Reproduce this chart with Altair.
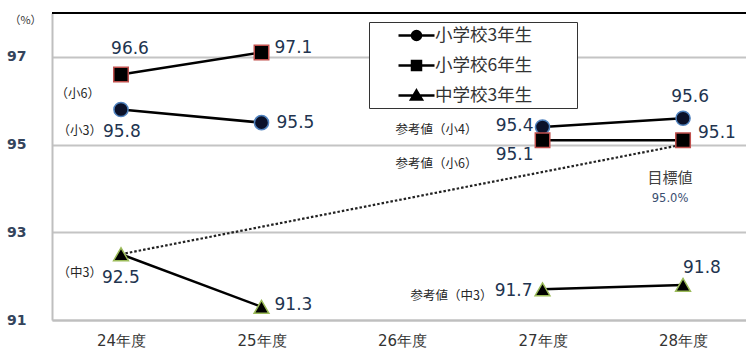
import altair as alt
import pandas as pd

# ---------------- data ----------------
series_names = ["小学校3年生", "小学校6年生", "中学校3年生"]
years = [24, 25, 27, 28]
sho3 = [95.8, 95.5, 95.4, 95.6]
sho6 = [96.6, 97.1, 95.1, 95.1]
chu3 = [92.5, 91.3, 91.7, 91.8]
segments = ["実績", "実績", "参考値", "参考値"]

target_years = [24, 28]
target_values = [92.5, 95.0]
target_texts = ["目標値", "95.0%"]

notes_text = ["（小6）", "（小3）", "参考値（小4）", "参考値（小6）", "（中3）", "参考値（中3）"]
notes_series = ["小学校6年生", "小学校3年生", "小学校3年生", "小学校6年生", "中学校3年生", "中学校3年生"]
notes_year = [24, 24, 27, 27, 24, 27]

x_ticks = [24, 25, 26, 27, 28]
y_ticks = [91, 93, 95, 97]
y_top = 98

rows = []
for name, vals in zip(series_names, [sho3, sho6, chu3]):
    for yr, v, seg in zip(years, vals, segments):
        rows.append({"series": name, "year": yr, "value": v, "seg": seg,
                     "label": f"{v:.1f}"})
df = pd.DataFrame(rows)

notes_rows = []
for t, s, yr in zip(notes_text, notes_series, notes_year):
    v = df[(df.series == s) & (df.year == yr)].value.iloc[0]
    notes_rows.append({"text": t, "series": s, "year": yr, "value": v})
notes_df = pd.DataFrame(notes_rows)

target_df = pd.DataFrame({"year": target_years, "value": target_values})
target_lab = pd.DataFrame({"year": [target_years[1]] * 2, "value": [target_values[1]] * 2,
                           "text": target_texts, "k": [0, 1]})

# ---------------- styling ----------------
NUM_FONT = "DejaVu Sans"
JP_FONT = "Noto Sans CJK JP"
NUM_COLOR = "#22344f"

xscale = alt.Scale(domain=[23.509, 28.448], nice=False, zero=False)
yscale = alt.Scale(domain=[91, y_top], nice=False, zero=False)

X = alt.X("year:Q", scale=xscale, axis=alt.Axis(
    values=x_ticks, labelExpr="datum.value + '年度'", title=None,
    labelFont=NUM_FONT, labelFontSize=15, labelColor="#333333",
    labelPadding=13, ticks=False, grid=False,
    domainColor="#bfbfbf", domainWidth=2))
Y = alt.Y("value:Q", scale=yscale, axis=alt.Axis(
    values=y_ticks, title="（%）", titleAngle=0, titleX=-27, titleY=7,
    titleAlign="center", titleBaseline="middle", titleFont=JP_FONT,
    titleFontSize=11, titleFontWeight="normal", titleColor="#333333",
    labelFont=NUM_FONT, labelFontSize=14, labelFontWeight="bold",
    labelColor="#34445c", labelPadding=26, ticks=False,
    grid=True, gridColor="#c4c4c4", gridWidth=2,
    domainColor="#bfbfbf", domainWidth=2))

base = alt.Chart(df)

top_rule = alt.Chart(pd.DataFrame({"v": [y_top]})).mark_rule(
    color="black", strokeWidth=2).encode(y=alt.Y("v:Q", scale=yscale))

lines = base.mark_line(color="black", strokeWidth=2.5).encode(
    x=X, y=Y, detail=["series:N", "seg:N"])

target_line = alt.Chart(target_df).mark_line(
    color="#222222", strokeWidth=2.2, strokeDash=[2.5, 2]).encode(x="year:Q", y="value:Q")

points = base.mark_point(filled=True, opacity=1, strokeWidth=1.5).encode(
    x="year:Q", y="value:Q",
    shape=alt.Shape("series:N", scale=alt.Scale(domain=series_names,
                    range=["circle", "square", "triangle-up"]), legend=None),
    fill=alt.Fill("series:N", scale=alt.Scale(domain=series_names,
                  range=["#0b1129", "#000000", "#000000"]), legend=None),
    stroke=alt.Stroke("series:N", scale=alt.Scale(domain=series_names,
                      range=["#4f81bd", "#c0504d", "#9bbb59"]), legend=None),
    size=alt.Size("series:N", scale=alt.Scale(domain=series_names,
                  range=[200, 220, 270]), legend=None),
)

# legend symbols: a short line with the marker on it
legend_paths = [
    "M-2,0H2M0.5,0A0.5,0.5,0,1,1,-0.5,0A0.5,0.5,0,1,1,0.5,0Z",
    "M-2,0H2M-0.5,-0.5H0.5V0.5H-0.5Z",
    "M-2,0H2M0,-0.55L0.6,0.45H-0.6Z",
]
legend_layer = base.transform_filter("false").mark_point(
    filled=True, opacity=1, size=324, fill="black", stroke="black", strokeWidth=2.5
).encode(
    x="year:Q", y="value:Q",
    shape=alt.Shape("series:N", scale=alt.Scale(domain=series_names, range=legend_paths),
                    legend=alt.Legend(title="|", titleOrient="right", titleOpacity=0,
                                      titleFontSize=10, titlePadding=39,
                                      symbolSize=324, symbolOffset=34, labelOffset=8)),
)

# value labels: (series, year) -> (dx, dy, align)
label_place = {
    ("小学校3年生", 24): (-18, 23, "left"),
    ("小学校3年生", 25): (15, 0, "left"),
    ("小学校3年生", 27): (-9, -1, "right"),
    ("小学校3年生", 28): (7, -21, "center"),
    ("小学校6年生", 24): (9, -25, "center"),
    ("小学校6年生", 25): (13, -4, "left"),
    ("小学校6年生", 27): (-9, 15, "right"),
    ("小学校6年生", 28): (15, -7, "left"),
    ("中学校3年生", 24): (-19, 24, "left"),
    ("中学校3年生", 25): (13, -2, "left"),
    ("中学校3年生", 27): (-10, 2, "right"),
    ("中学校3年生", 28): (0, -17, "left"),
}
value_labels = []
for (s, yr), (dx, dy, al) in label_place.items():
    value_labels.append(
        base.transform_filter(f"datum.series == '{s}' && datum.year == {yr}")
        .mark_text(font=NUM_FONT, fontSize=17, color=NUM_COLOR, align=al,
                   baseline="middle", dx=dx, dy=dy)
        .encode(x="year:Q", y="value:Q", text="label:N"))

note_place = {
    ("小学校6年生", 24): (-21, 20),
    ("小学校3年生", 24): (-19, 22),
    ("小学校3年生", 27): (-65, 3),
    ("小学校6年生", 27): (-65, 24),
    ("中学校3年生", 24): (-19, 19),
    ("中学校3年生", 27): (-50, 7),
}
note_labels = []
for (s, yr), (dx, dy) in note_place.items():
    note_labels.append(
        alt.Chart(notes_df).transform_filter(f"datum.series == '{s}' && datum.year == {yr}")
        .mark_text(font=JP_FONT, fontSize=12.5, color="#262626", align="right",
                   baseline="middle", dx=dx, dy=dy)
        .encode(x="year:Q", y="value:Q", text="text:N"))

tgt1 = alt.Chart(target_lab).transform_filter("datum.k == 0").mark_text(
    font=JP_FONT, fontSize=15, color="#404040", align="center", baseline="middle",
    dx=-13, dy=33).encode(x="year:Q", y="value:Q", text="text:N")
tgt2 = alt.Chart(target_lab).transform_filter("datum.k == 1").mark_text(
    font=NUM_FONT, fontSize=11.5, color="#3a4e70", align="center", baseline="middle",
    dx=-13, dy=54).encode(x="year:Q", y="value:Q", text="text:N")

chart = alt.layer(
    top_rule, target_line, lines, points, legend_layer,
    *value_labels, *note_labels, tgt1, tgt2
).resolve_scale(shape="independent").properties(
    width=694, height=307,
    autosize=alt.AutoSizeParams(type="none"),
    padding={"left": 52, "top": 13, "right": 0, "bottom": 33},
).configure_view(stroke=None).configure_legend(
    orient="none", legendX=317, legendY=9,
    strokeColor="#333333", fillColor="white", padding=3,
    labelFont=JP_FONT, labelFontSize=17.5, labelColor="#333333",
    rowPadding=10, symbolStrokeWidth=2.5,
)

chart.save("out.html", embed_options={"renderer": "svg", "actions": False})
